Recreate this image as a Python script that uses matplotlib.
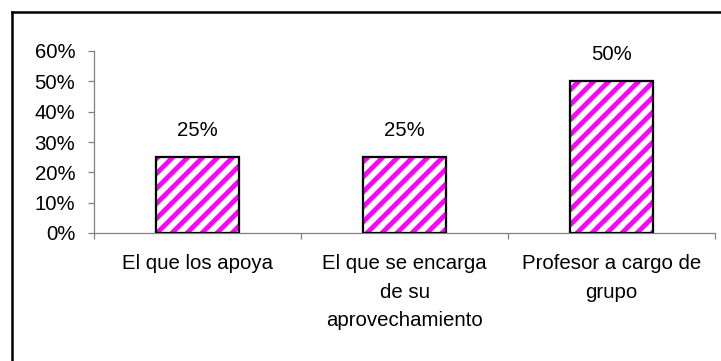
import matplotlib
matplotlib.use("Agg")
import matplotlib.pyplot as plt
from matplotlib.lines import Line2D

categories = ["El que los apoya",
              "El que se encarga\nde su\naprovechamiento",
              "Profesor a cargo de\ngrupo"]
values = [25, 25, 50]
yticks = [0, 10, 20, 30, 40, 50, 60]

DPI = 90
W, H = 721, 361
plt.rcParams['font.family'] = ['Liberation Sans', 'DejaVu Sans']
plt.rcParams['hatch.linewidth'] = 3.8
plt.rcParams['hatch.color'] = '#FF00FF'
fs = 16.3

fig = plt.figure(figsize=(W / DPI, H / DPI), dpi=DPI)
ax = fig.add_axes([94 / W, 128 / H, (715 - 94) / W, (233 - 51) / H])

x = list(range(len(categories)))
# hatched fill, then black outline on top
ax.bar(x, values, width=0.4, color='white', edgecolor='#FF00FF',
       linewidth=0, hatch='//', zorder=2)
ax.bar(x, values, width=0.4, fill=False, edgecolor='black',
       linewidth=1.8, zorder=3)

for xi, v in zip(x, values):
    ax.annotate(f"{v}%", (xi, v), xytext=(0, 17), textcoords='offset pixels',
                ha='center', va='bottom', fontsize=fs)

ax.set_xlim(-0.5, len(categories) - 0.5)
ax.set_ylim(0, 60)
ax.set_yticks(yticks)
ax.set_yticklabels([f"{t}%" for t in yticks], fontsize=fs)
ax.set_xticks([i - 0.5 for i in range(len(categories) + 1)])
ax.set_xticklabels([])
ax.set_xticks(x, minor=True)
ax.set_xticklabels(categories, minor=True, fontsize=fs, linespacing=1.62,
                   va='top')

for s in ['top', 'right']:
    ax.spines[s].set_visible(False)
for s in ['left', 'bottom']:
    ax.spines[s].set_color('#808080')
    ax.spines[s].set_linewidth(1.0)
ax.tick_params(axis='y', which='major', direction='out', length=5,
               color='#808080', width=1.0, pad=10)
ax.tick_params(axis='x', which='major', direction='out', length=5,
               color='#808080', width=1.0)
ax.tick_params(axis='x', which='minor', length=0, pad=17)

# outer chart border (left and top edges)
fig.add_artist(Line2D([11.5 / W, 11.5 / W], [0, 1 - 11.5 / H],
                      transform=fig.transFigure, color='black', lw=2.0))
fig.add_artist(Line2D([11.5 / W, 1], [1 - 11.5 / H, 1 - 11.5 / H],
                      transform=fig.transFigure, color='black', lw=2.0))

fig.savefig("out.png", dpi=DPI)
